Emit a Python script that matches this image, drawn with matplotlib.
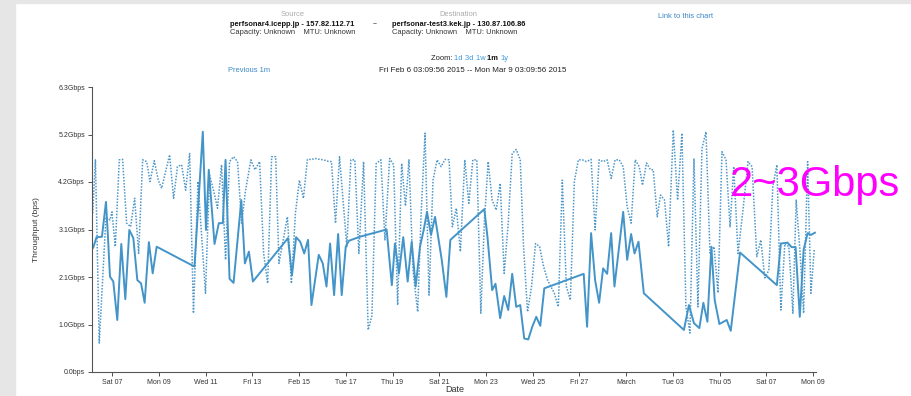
import matplotlib
matplotlib.use("Agg")
import matplotlib.pyplot as plt
import matplotlib.dates as mdates
from matplotlib.patches import Rectangle
from datetime import datetime
import numpy as np

plt.rcParams['font.family'] = ['Liberation Sans', 'DejaVu Sans']

# ---- data (days since 2015-02-06 00:00, throughput in Gbps) ----
fwd_days = [0.185, 0.326, 0.558, 0.730, 0.807, 0.901, 1.043, 1.215, 1.386, 1.558, 1.730, 1.901,
            2.073, 2.232, 2.386, 2.567, 2.730, 2.901, 4.519, 4.876, 5.013, 5.133, 5.378, 5.562,
            5.734, 5.850, 6.021, 6.193, 6.524, 6.678, 6.850, 7.021, 8.524, 8.695, 8.871, 9.047,
            9.219, 9.382, 9.528, 9.841, 10.013, 10.172, 10.326, 10.498, 10.670, 10.824, 10.996,
            11.129, 11.601, 12.747, 12.970, 13.103, 13.275, 13.459, 13.648, 13.820, 13.991,
            14.176, 14.335, 14.476, 14.648, 14.820, 15.107, 15.305, 15.476, 16.929, 17.064,
            17.266, 17.408, 17.609, 17.781, 17.953, 18.124, 18.296, 18.468, 18.639, 18.811,
            18.983, 19.155, 19.326, 19.498, 21.185, 21.330, 21.502, 21.674, 21.845, 22.017,
            22.189, 22.361, 22.502, 22.876, 23.047, 23.215, 23.361, 23.532, 23.760, 25.476,
            25.691, 25.906, 26.137, 26.309, 26.481, 26.652, 26.794, 26.996, 27.309, 27.481,
            27.880, 29.455, 29.627, 29.914, 30.086, 30.258, 30.438, 30.601, 30.773, 30.914,
            31.086]
fwd_gbps = [2.75, 2.98, 2.99, 3.76, 3.07, 2.11, 2.00, 1.15, 2.83, 1.61, 3.14, 2.96,
            2.03, 1.96, 1.53, 2.87, 2.18, 2.77, 2.33, 5.31, 3.14, 4.47, 2.83, 3.29,
            3.29, 4.69, 2.06, 1.97, 3.80, 2.40, 2.66, 2.00, 2.96, 2.14, 2.98, 2.88,
            2.62, 2.92, 1.48, 2.59, 2.40, 1.89, 2.84, 1.70, 3.05, 1.70, 2.77,
            2.90, 2.99, 3.15, 1.92, 2.84, 2.18, 2.98, 2.00, 2.88, 1.89,
            2.77, 3.14, 3.54, 3.03, 3.43, 2.48, 1.66, 2.92, 3.60, 2.99,
            1.81, 1.95, 1.19, 1.68, 1.37, 2.17, 1.44, 1.48, 0.74, 0.72,
            1.00, 1.22, 1.02, 1.85, 2.17, 1.00, 3.07, 2.03, 1.53, 2.29,
            2.17, 3.07, 1.89, 3.54, 2.48, 3.05, 2.62, 2.88, 1.74, 0.93,
            1.48, 1.08, 0.97, 1.53, 1.11, 2.77, 1.59, 1.06, 1.15, 0.91,
            2.64, 1.92, 2.84, 2.86, 2.76, 2.76, 1.22, 2.70, 3.07, 3.03,
            3.08]

rev_days = [0.163, 0.279, 0.442, 0.730, 0.901, 0.987, 1.129, 1.300, 1.442, 1.614, 1.785, 1.957,
            2.129, 2.300, 2.472, 2.618, 2.798, 2.970, 3.112, 3.455, 3.627, 3.790, 3.970, 4.142,
            4.313, 4.476, 4.670, 4.991, 5.163, 5.335, 5.506, 5.678, 5.850, 6.021, 6.193, 6.365,
            6.536, 6.708, 6.936, 7.112, 7.309, 7.481, 7.652, 7.824, 7.996, 8.137, 8.498, 8.670,
            8.841, 9.013, 9.185, 9.356, 9.528, 9.700, 9.871, 10.043, 10.215, 10.386, 10.558,
            10.730, 11.043, 11.215, 11.386, 11.558, 11.760, 11.957, 12.116, 12.300, 12.502,
            12.674, 12.876, 13.047, 13.219, 13.391, 13.554, 13.704, 13.876, 14.077, 14.219,
            14.391, 14.562, 14.734, 14.906, 15.077, 15.249, 15.421, 15.562, 15.734, 15.906,
            16.094, 16.266, 16.438, 16.609, 16.781, 16.936, 17.094, 17.266, 17.438, 17.609,
            17.781, 17.953, 18.124, 18.296, 18.468, 18.609, 18.781, 18.953, 19.124, 19.296,
            19.468, 19.639, 19.927, 20.099, 20.270, 20.442, 20.614, 20.785, 20.957, 21.129,
            21.300, 21.502, 21.674, 21.845, 22.017, 22.189, 22.361, 22.532, 22.704, 22.876,
            23.047, 23.215, 23.391, 23.562, 23.704, 23.876, 24.047, 24.163, 24.335, 24.476,
            24.648, 24.820, 25.021, 25.206, 25.391, 25.562, 25.734, 25.906, 26.077, 26.249,
            26.421, 26.592, 26.764, 26.936, 27.107, 27.279, 27.451, 27.609, 27.794, 27.996,
            28.223, 28.395, 28.597, 28.768, 28.940, 29.112, 29.283, 29.455, 29.627, 29.798,
            29.970, 30.142, 30.283, 30.442, 30.601, 30.773, 30.914, 31.056]
rev_gbps = [3.51, 4.69, 0.64, 3.43, 3.36, 3.54, 2.77, 4.69, 4.70, 3.29, 3.21, 3.84,
            2.62, 4.69, 4.65, 4.21, 4.67, 4.24, 4.06, 4.80, 3.84, 4.54, 4.58, 4.02,
            4.83, 1.30, 4.21, 1.74, 4.35, 4.02, 3.62, 4.58, 2.48, 4.65, 4.76, 4.65,
            3.29, 4.02, 4.69, 4.47, 4.65, 2.62, 1.96, 4.76, 4.76, 2.40, 3.43, 1.96,
            3.51, 4.24, 3.84, 4.70, 4.70, 4.72, 4.70, 4.69, 4.66, 4.65, 3.29,
            4.76, 2.77, 4.69, 4.69, 2.62, 4.65, 0.93, 1.24, 4.61, 4.69,
            2.92, 4.72, 4.58, 1.48, 4.61, 3.67, 4.69, 2.25, 1.33, 3.43,
            5.28, 1.70, 4.24, 4.69, 4.54, 4.70, 4.69, 3.21, 3.62, 2.66,
            4.69, 3.73, 4.69, 4.69, 1.30, 3.36, 4.65, 3.80, 3.58, 4.17,
            2.18, 3.29, 4.83, 4.92, 4.69, 2.77, 1.33, 1.89, 2.84, 2.77,
            2.33, 2.03, 1.74, 1.44, 4.24, 1.89, 1.59, 4.21, 4.69, 4.69,
            4.65, 4.70, 3.14, 4.69, 4.65, 4.69, 4.28, 4.69, 4.69, 4.54,
            3.65, 3.29, 4.69, 4.54, 4.13, 4.62, 4.47, 4.47, 3.43, 3.91,
            3.80, 2.77, 5.35, 3.80, 5.28, 1.44, 0.86, 4.72, 1.44, 4.94,
            5.31, 2.63, 2.77, 1.75, 4.87, 4.69, 3.21, 4.54, 2.62, 3.54,
            4.65, 4.54, 2.55, 2.92, 2.08, 2.25, 4.10, 4.58, 1.37, 2.84,
            2.77, 1.30, 3.80, 2.70, 1.30, 4.65, 1.74, 2.70]

y_ticks = [0.0, 1.05, 2.10, 3.15, 4.20, 5.25, 6.30]
y_tick_labels = ["0.0bps", "1.0Gbps", "2.1Gbps", "3.1Gbps", "4.2Gbps", "5.2Gbps", "6.3Gbps"]
x_tick_days = [1, 3, 5, 7, 9, 11, 13, 15, 17, 19, 21, 23, 25, 27, 29, 31]
x_tick_labels = ["Sat 07", "Mon 09", "Wed 11", "Fri 13", "Feb 15", "Tue 17", "Thu 19", "Sat 21",
                 "Mon 23", "Wed 25", "Fri 27", "March", "Tue 03", "Thu 05", "Sat 07", "Mon 09"]

base = mdates.date2num(datetime(2015, 2, 6))
x_start = mdates.date2num(datetime(2015, 2, 6, 3, 9, 56))
x_end = mdates.date2num(datetime(2015, 3, 9, 3, 9, 56))

W, H = 912, 396
fig = plt.figure(figsize=(W / 100, H / 100), dpi=100)
fig.patch.set_facecolor('white')

# slide frame (gray strips at left and top)
fig.add_artist(Rectangle((0, 0), 15 / W, 1, transform=fig.transFigure, color='#e6e6e6', zorder=0))
fig.add_artist(Rectangle((0, 1 - 3 / H), 1, 3 / H, transform=fig.transFigure, color='#e6e6e6', zorder=0))

ax = fig.add_axes([92 / W, (H - 372) / H, (816 - 92) / W, (372 - 87) / H])

ax.plot(base + np.array(rev_days), rev_gbps, color='#4d96c8', lw=1.1, ls=(0, (1, 1)))
ax.plot(base + np.array(fwd_days), fwd_gbps, color='#4394c8', lw=1.4)

ax.set_xlim(x_start, x_end)
ax.set_ylim(0, 6.3)
ax.set_yticks(y_ticks)
ax.set_yticklabels(y_tick_labels)
ax.set_xticks([base + d for d in x_tick_days])
ax.set_xticklabels(x_tick_labels)

for s in ['top', 'right']:
    ax.spines[s].set_visible(False)
for s in ['left', 'bottom']:
    ax.spines[s].set_color('#555555')
    ax.spines[s].set_linewidth(0.8)
ax.tick_params(axis='both', labelsize=5, colors='#333333', length=3, width=0.6, pad=2)

# axis titles
fig.text(37 / W, 1 - 230 / H, "Throughput (bps)", rotation=90, ha='center', va='center',
         fontsize=6, color='#333333')
fig.text(455 / W, 1 - 390 / H, "Date", ha='center', va='center', fontsize=6.5, color='#333333')

# header
fs = 5.4
fig.text(293 / W, 1 - 15 / H, "Source", ha='center', va='center', fontsize=fs, color='#aaaaaa')
fig.text(230 / W, 1 - 24 / H, "perfsonar4.icepp.jp - 157.82.112.71", ha='left', va='center',
         fontsize=fs, color='#111111', fontweight='bold')
fig.text(230 / W, 1 - 33 / H, "Capacity: Unknown    MTU: Unknown", ha='left', va='center',
         fontsize=fs, color='#333333')
fig.text(375 / W, 1 - 24 / H, "--", ha='center', va='center', fontsize=fs, color='#333333')
fig.text(458 / W, 1 - 15 / H, "Destination", ha='center', va='center', fontsize=fs, color='#aaaaaa')
fig.text(392 / W, 1 - 24 / H, "perfsonar-test3.kek.jp - 130.87.106.86", ha='left', va='center',
         fontsize=fs, color='#111111', fontweight='bold')
fig.text(392 / W, 1 - 33 / H, "Capacity: Unknown    MTU: Unknown", ha='left', va='center',
         fontsize=fs, color='#333333')
fig.text(658 / W, 1 - 17 / H, "Link to this chart", ha='left', va='center', fontsize=fs,
         color='#3a87c8')

# zoom line
zy = 1 - 59 / H
t = fig.text(431 / W, zy, "Zoom: ", ha='left', va='center', fontsize=fs, color='#222222')
fig.canvas.draw()
r = fig.canvas.get_renderer()
xx = t.get_window_extent(r).x1
for word, col, wt in [("1d ", '#3a9ad9', 'normal'), ("3d ", '#3a9ad9', 'normal'),
                      ("1w ", '#3a9ad9', 'normal'), ("1m ", '#111111', 'bold'),
                      ("1y", '#3a9ad9', 'normal')]:
    tt = fig.text(xx / W, zy, word, ha='left', va='center', fontsize=fs, color=col, fontweight=wt)
    xx = tt.get_window_extent(r).x1

fig.text(228 / W, 1 - 71 / H, "Previous 1m", ha='left', va='center', fontsize=fs, color='#3a87c8')
fig.text(379 / W, 1 - 71 / H, "Fri Feb 6 03:09:56 2015 -- Mon Mar 9 03:09:56 2015", ha='left',
         va='center', fontsize=5.8, color='#222222')

# annotation
fig.text(815 / W, 1 - 185 / H, "2~3Gbps", ha='center', va='center', fontsize=30,
         color='#ff00ff')

fig.savefig("out.png", dpi=100)
